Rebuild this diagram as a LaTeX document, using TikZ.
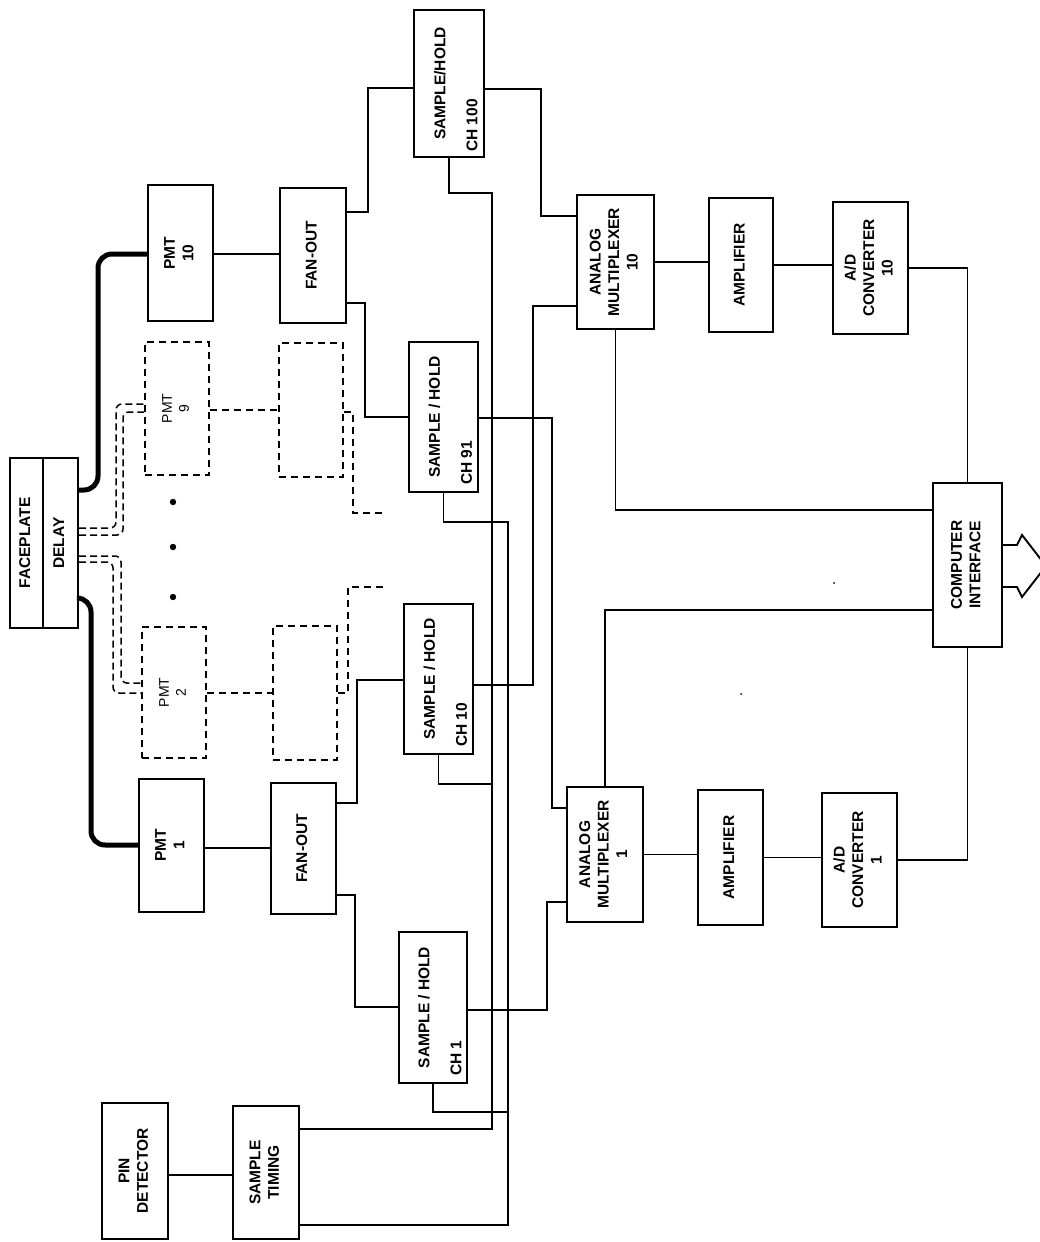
\documentclass[tikz,border=0pt]{standalone}
\usepackage{fontspec}
\setmainfont{Liberation Sans}
\usetikzlibrary{calc}
\newcommand{\vtxt}[1]{\rotatebox{90}{\begin{tabular}{@{}c@{}}#1\end{tabular}}}
\tikzset{
 box/.style={draw, line width=2.1pt, inner sep=0pt, font=\bfseries\fontsize{15.5}{18.5}\selectfont},
 dbox/.style={draw, line width=1.7pt, dash pattern=on 7pt off 5pt, inner sep=0pt, font=\fontsize{14}{17}\selectfont},
 wire/.style={line width=1.9pt},
 fiber/.style={line width=5pt, rounded corners=14pt},
 dwire/.style={line width=1.6pt, dash pattern=on 7pt off 5pt},
 dfiber/.style={line width=1.5pt, dash pattern=on 7pt off 4pt, rounded corners=6pt},
 rlab/.style={rotate=90, inner sep=0pt, font=\bfseries\fontsize{15.5}{18.5}\selectfont},
}
\begin{document}
\begin{tikzpicture}[x=1pt,y=-1pt]
\useasboundingbox (0,0) rectangle (1040,1242);
\fill[white] (0,0) rectangle (1040,1242);

% faceplate / delay
\node[box, minimum width=33pt, minimum height=170pt] (face) at (26.5,543) {\vtxt{FACEPLATE}};
\node[box, minimum width=35pt, minimum height=170pt] (delay) at (60.5,543) {\vtxt{DELAY}};

% PMTs and fan-outs
\node[box, minimum width=65pt, minimum height=136pt] (pmt10) at (180.5,253) {\vtxt{PMT\\10}};
\node[box, minimum width=66pt, minimum height=135pt] (fo10) at (313,255.5) {\vtxt{FAN-OUT}};
\node[dbox, minimum width=64pt, minimum height=133pt] (pmt9) at (177,408.5) {\vtxt{PMT\\9}};
\node[dbox, minimum width=64pt, minimum height=134pt] (fo9) at (311,410) {};
\node[dbox, minimum width=64pt, minimum height=131pt] (pmt2) at (174,692.5) {\vtxt{PMT\\2}};
\node[dbox, minimum width=64pt, minimum height=134pt] (fo2) at (305,693) {};
\node[box, minimum width=65pt, minimum height=133pt] (pmt1) at (171.5,845.5) {\vtxt{PMT\\1}};
\node[box, minimum width=65pt, minimum height=131pt] (fo1) at (303.5,848.5) {\vtxt{FAN-OUT}};

% sample/holds
\node[box, minimum width=70pt, minimum height=147pt] (sh100) at (449,83.5) {};
\node[rlab] (sh100a) at ($(sh100.center)+(-9,0)$) {SAMPLE/HOLD};
\node[rlab, anchor=west] (sh100b) at ($(sh100.south)+(23,-6)$) {CH 100};
\node[box, minimum width=69pt, minimum height=150pt] (sh91) at (443.5,417) {};
\node[rlab] (sh91a) at ($(sh91.center)+(-9,0)$) {SAMPLE / HOLD};
\node[rlab, anchor=west] (sh91b) at ($(sh91.south)+(23,-8)$) {CH 91};
\node[box, minimum width=69pt, minimum height=150pt] (sh10) at (438.5,679) {};
\node[rlab] (sh10a) at ($(sh10.center)+(-9,0)$) {SAMPLE / HOLD};
\node[rlab, anchor=west] (sh10b) at ($(sh10.south)+(23,-8)$) {CH 10};
\node[box, minimum width=68pt, minimum height=151pt] (sh1) at (433,1007.5) {};
\node[rlab] (sh1a) at ($(sh1.center)+(-9,0)$) {SAMPLE / HOLD};
\node[rlab, anchor=west] (sh1b) at ($(sh1.south)+(23,-8)$) {CH 1};

% multiplexers, amplifiers, converters
\node[box, minimum width=77pt, minimum height=134pt] (am10) at (615.5,262) {\vtxt{ANALOG\\MULTIPLEXER\\10}};
\node[box, minimum width=64pt, minimum height=134pt] (amp10) at (741,265) {\vtxt{AMPLIFIER}};
\node[box, minimum width=75pt, minimum height=132pt] (ad10) at (870.5,268) {\vtxt{A/D\\CONVERTER\\10}};
\node[box, minimum width=76pt, minimum height=135pt] (am1) at (605,854.5) {\vtxt{ANALOG\\MULTIPLEXER\\1}};
\node[box, minimum width=65pt, minimum height=135pt] (amp1) at (730.5,857.5) {\vtxt{AMPLIFIER}};
\node[box, minimum width=75pt, minimum height=134pt] (ad1) at (859.5,860) {\vtxt{A/D\\CONVERTER\\1}};
\node[box, minimum width=69pt, minimum height=164pt] (ci) at (967.5,565) {\vtxt{COMPUTER\\INTERFACE}};

% pin detector / timing
\node[box, minimum width=66pt, minimum height=136pt] (pin) at (135,1171) {\vtxt{PIN\\DETECTOR}};
\node[box, minimum width=66pt, minimum height=133pt] (timing) at (266,1172.5) {\vtxt{SAMPLE\\TIMING}};

% fibres
\draw[fiber] (delay.east |- 0,490) -- (98,490) -- (98,254) -- (pmt10.west |- 0,254);
\draw[fiber] (delay.east |- 0,598) -- (91,598) -- (91,845) -- (pmt1.west |- 0,845);
\draw[dfiber] (delay.east |- 0,528) -- (116,528) -- (116,404) -- (pmt9.west |- 0,404);
\draw[dfiber] (delay.east |- 0,535) -- (123,535) -- (123,412) -- (pmt9.west |- 0,412);
\draw[dfiber] (delay.east |- 0,556) -- (121,556) -- (121,683) -- (pmt2.west |- 0,683);
\draw[dfiber] (delay.east |- 0,562) -- (113,562) -- (113,693) -- (pmt2.west |- 0,693);

% dots
\fill (173,502) circle[radius=3.2pt];
\fill (173,547) circle[radius=3.2pt];
\fill (173,597) circle[radius=3.2pt];

% PMT -> fan-out -> sample/hold
\draw[wire] (pmt10.east |- 0,254) -- (fo10.west |- 0,254);
\draw[wire] (fo10.east |- 0,212) -- (368,212) -- (368,88) -- (sh100.west |- 0,88);
\draw[wire] (fo10.east |- 0,303) -- (365,303) -- (365,417) -- (sh91.west |- 0,417);
\draw[dwire] (pmt9.east |- 0,410) -- (fo9.west |- 0,410);
\coordinate (stub9) at (385,513);
\draw[dwire] (fo9.east |- 0,412) -- (353,412) -- (353,513) -- (stub9);
\draw[dwire] (pmt2.east |- 0,693) -- (fo2.west |- 0,693);
\coordinate (stub2) at (385,587);
\draw[dwire] (fo2.east |- 0,693) -- (348,693) -- (348,587) -- (stub2);
\draw[wire] (pmt1.east |- 0,848) -- (fo1.west |- 0,848);
\draw[wire] (fo1.east |- 0,803) -- (357,803) -- (357,680) -- (sh10.west |- 0,680);
\draw[wire] (fo1.east |- 0,895) -- (355,895) -- (355,1007) -- (sh1.west |- 0,1007);

% sample/hold -> multiplexers
\draw[wire] (sh100.east |- 0,89) -- (541,89) -- (541,216) -- (am10.west |- 0,216);
\draw[wire] (sh91.east |- 0,418) -- (552,418) -- (552,808) -- (am1.west |- 0,808);
\draw[wire] (sh10.east |- 0,685) -- (533,685) -- (533,306) -- (am10.west |- 0,306);
\draw[wire] (sh1.east |- 0,1010) -- (547,1010) -- (547,902) -- (am1.west |- 0,902);

% timing
\draw[wire] (pin.east |- 0,1175) -- (timing.west |- 0,1175);
\draw[wire] (timing.east |- 0,1129) -- (492,1129) -- (492,193) -| (sh100.south);
\draw[wire] (sh10.south) |- (492,784);
\draw[wire] (timing.east |- 0,1225) -- (508,1225) -- (508,522) -| (sh91.south);
\draw[wire] (sh1.south) |- (508,1112);

% chains
\draw[wire] (am10.east) -- (amp10.west |- am10.east);
\draw[wire] (amp10.east) -- (ad10.west |- amp10.east);
\draw[wire] (ad10.east) -| (ci.north);
\draw[wire] (am10.south) |- (ci.west |- 0,510);
\draw[wire] (am1.east) -- (amp1.west |- am1.east);
\draw[wire] (amp1.east) -- (ad1.west |- amp1.east);
\draw[wire] (ad1.east) -| (ci.south);
\draw[wire] (am1.north) |- (ci.west |- 0,610);

% output bus arrow
\begin{scope}
\clip (0,0) rectangle (1040,1242);
\draw[wire] (ci.east |- 0,545) -- (1017,545) -- (1022,535) -- (1046,566);
\draw[wire] (ci.east |- 0,587) -- (1017,587) -- (1022,597) -- (1046,566);
\end{scope}

% specks
\fill (834,583) circle[radius=1pt];
\fill (741,694) circle[radius=1pt];
\end{tikzpicture}
\end{document}
